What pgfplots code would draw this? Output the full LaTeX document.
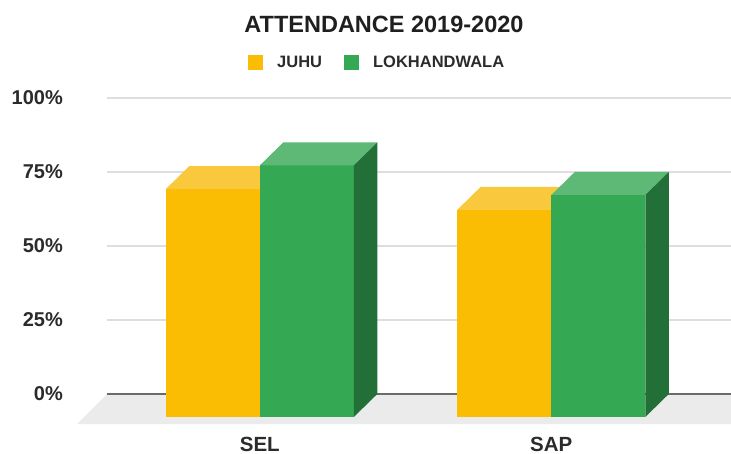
\documentclass[border=0pt]{standalone}
\usepackage{pgfplots}
\pgfplotsset{compat=1.18}
\usepackage{pgfplotstable}
\usepackage{fontspec}
\setmainfont{Liberation Sans}

\definecolor{juhu}{HTML}{FBBC04}
\definecolor{juhutop}{HTML}{FAC83C}
\definecolor{juhuside}{HTML}{C99604}
\definecolor{lokh}{HTML}{34A853}
\definecolor{lokhtop}{HTML}{5EB876}
\definecolor{lokhside}{HTML}{226F37}
\definecolor{floorc}{HTML}{EBEBEB}
\definecolor{gridc}{HTML}{DEDEDE}
\definecolor{zeroc}{HTML}{6B6B6B}
\definecolor{txt}{HTML}{2B2B2B}

% attendance in percent
\pgfplotstableread{
idx cat juhu lokh
0 SEL 77 85
1 SAP 70 75
}\datatable

\newcommand\face[2]{%
  \edef\tmp{\noexpand\addplot[#1, draw=none, forget plot] coordinates {#2} -- cycle;}\tmp}

\def\dep{7.77}  % depth (vertical, in %)
\def\dx{23.5}   % depth (horizontal)
\def\bw{94}     % bar width

\begin{document}
\begin{tikzpicture}
\begin{axis}[
  name=ax,
  x=1bp, y=2.96bp,
  xmin=107, xmax=731, ymin=0, ymax=100,
  clip=false,
  axis lines*=left,
  axis line style={draw=none},
  major tick length=0pt,
  ymajorgrids,
  grid style={gridc, line width=1.3bp},
  ytick={0,25,50,75,100},
  yticklabels={0\%,25\%,50\%,75\%,100\%},
  yticklabel style={anchor=east, inner sep=0pt, xshift=-44bp,
    font=\bfseries\fontsize{20bp}{24bp}\selectfont, text=txt},
  xtick={259.8,551.3},
  xticklabels={SEL,SAP},
  xticklabel style={anchor=base, inner sep=0pt, yshift=-57bp,
    font=\bfseries\fontsize{20.5bp}{24bp}\selectfont, text=txt},
  title={ATTENDANCE 2019-2020},
  every axis title shift=0pt,
  title style={at={(0.4439,1.221)}, anchor=base, inner sep=0pt,
    font=\bfseries\fontsize{23.5bp}{28bp}\selectfont, text=black!88},
  legend columns=2,
  legend image code/.code={\fill[#1] (0bp,-7.5bp) rectangle (15bp,7.5bp);},
  legend style={at={(0.226,1.12)}, anchor=west, draw=none, fill=none,
    inner sep=0pt, nodes={inner sep=0pt},
    font=\bfseries\fontsize{16.5bp}{20bp}\selectfont, text=txt,
    /tikz/every odd column/.append style={column sep=14bp},
    /tikz/every even column/.append style={column sep=22bp}},
]
\addlegendimage{fill=juhu, draw=none}
\addlegendentry{JUHU}
\addlegendimage{fill=lokh, draw=none}
\addlegendentry{LOKHANDWALA}

% floor
\addplot[fill=floorc, draw=none, forget plot] coordinates {(107,0) (731,0) (731,-10.14) (77,-10.14)} -- cycle;
% zero line
\addplot[zeroc, line width=1.3bp, forget plot] coordinates {(107,0) (731,0)};

\pgfplotsinvokeforeach{0,1}{
  \pgfplotstablegetelem{#1}{juhu}\of\datatable \pgfmathsetmacro\vj{\pgfplotsretval}
  \pgfplotstablegetelem{#1}{lokh}\of\datatable \pgfmathsetmacro\vl{\pgfplotsretval}
  \pgfmathsetmacro\xa{165.8+291.5*#1}
  \pgfmathsetmacro\xb{\xa+\bw}
  \pgfmathsetmacro\xc{\xb+\bw}
  \pgfmathsetmacro\xad{\xa+\dx}
  \pgfmathsetmacro\xbd{\xb+\dx}
  \pgfmathsetmacro\xcd{\xc+\dx}
  \pgfmathsetmacro\ya{-\dep}
  \pgfmathsetmacro\yj{\vj-\dep}
  \pgfmathsetmacro\yl{\vl-\dep}
  % JUHU
  \face{fill=juhuside}{(\xb,\ya) (\xbd,0) (\xbd,\vj) (\xb,\yj)}
  \face{fill=juhu}{(\xa,\ya) (\xb,\ya) (\xb,\yj) (\xa,\yj)}
  \face{fill=juhutop}{(\xa,\yj) (\xb,\yj) (\xbd,\vj) (\xad,\vj)}
  % LOKHANDWALA
  \face{fill=lokh}{(\xb,\ya) (\xc,\ya) (\xc,\yl) (\xb,\yl)}
  \face{fill=lokhtop}{(\xb,\yl) (\xc,\yl) (\xcd,\vl) (\xbd,\vl)}
  \face{fill=lokhside}{(\xc,\ya) (\xcd,0) (\xcd,\vl) (\xc,\yl)}
}
\end{axis}
\pgfresetboundingbox
\path[use as bounding box] (ax.south west) ++(-107bp,-60bp) rectangle ++(731bp,454bp);
\end{tikzpicture}
\end{document}
